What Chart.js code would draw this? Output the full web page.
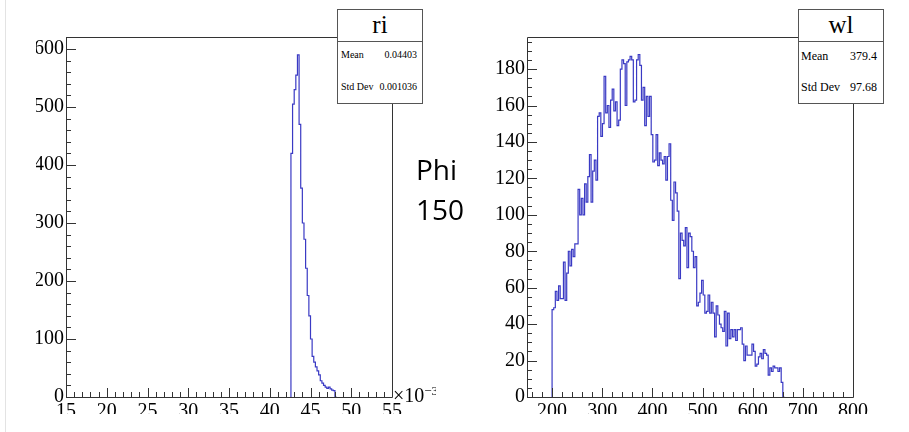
<!DOCTYPE html>
<html>
<head>
<meta charset="UTF-8">
<title>ri / wl</title>
<script src="https://cdn.jsdelivr.net/npm/chart.js@4.4.0/dist/chart.umd.min.js"></script>
<style>
  body { margin: 0; width: 909px; height: 432px; background: #fff; position: relative; overflow: hidden; font-family: "Liberation Serif", "Times New Roman", serif; }
  .edge { position: absolute; left: 5px; top: 0; width: 1px; height: 432px; background: #e3e3e3; }
  .pane { position: absolute; top: 0; height: 414px; overflow: hidden; }
  #paneL { left: 36px; width: 400px; }
  #paneR { left: 440px; width: 469px; }
  .pane canvas { position: absolute; top: 0; }
  #cL { left: -36px; }
  #cR { left: 10px; }
  .stats { position: absolute; top: 9px; width: 84px; height: 93px; border: 1px solid #555; background: #fff; color: #000; }
  .stats .title { height: 31px; border-bottom: 1px solid #555; text-align: center; font-size: 25px; line-height: 30px; }
  .stats .row { position: absolute; display: flex; justify-content: space-between; white-space: nowrap; }
  #statL { left: 337px; }
  #statR { left: 798px; }
  #statL .row { left: 3px; right: 5px; font-size: 10px; line-height: 12px; }
  #statR .row { left: 2px; right: 6px; font-size: 12px; line-height: 14px; }
  #expo { position: absolute; left: 357px; top: 381px; font-size: 20px; line-height: 20px; white-space: nowrap; }
  #expo sup { font-size: 13px; vertical-align: 7px; }
  #phi { position: absolute; left: 416px; top: 149px; font-family: "Open Sans", sans-serif; font-size: 28px; line-height: 40px; color: #000; }
</style>
</head>
<body>
<div class="edge"></div>

<div class="pane" id="paneL">
  <canvas id="cL" width="450" height="432"></canvas>
  <div id="expo">&times;10<sup>&minus;3</sup></div>
</div>
<div class="pane" id="paneR">
  <canvas id="cR" width="459" height="432"></canvas>
</div>

<div class="stats" id="statL">
  <div class="title">ri</div>
  <div class="row" style="top:39px"><span>Mean</span><span>0.04403</span></div>
  <div class="row" style="top:71px"><span>Std Dev</span><span>0.001036</span></div>
</div>
<div class="stats" id="statR">
  <div class="title">wl</div>
  <div class="row" style="top:39px"><span>Mean</span><span>379.4</span></div>
  <div class="row" style="top:70px"><span>Std Dev</span><span>97.68</span></div>
</div>

<div id="phi">Phi<br>150</div>

<script>
// ri histogram (x in units of 10^-3)
const riLow = 42.6;
const riBinWidth = 0.2;
const riCounts = [260, 420, 505, 530, 555, 590, 470, 360, 300, 272, 222, 175, 140, 100,
                  70, 60, 52, 45, 38, 28, 24, 20, 17, 15, 17, 14, 12, 11];
const riXTicks = { min: 15, max: 55, step: 5, minor: 1 };
const riYTicks = { min: 0, max: 620.7, step: 100, minor: 20 };

// wl histogram
const wlLow = 200;
const wlBinWidth = 3.24;
const wlCounts = [26, 48, 49, 58, 53, 61, 54, 54, 74, 53, 68, 80, 72, 81, 77, 84, 84,
                  114, 100, 109, 100, 117, 107, 121, 133, 107, 124, 130, 119, 154,
                  156, 143, 150, 176, 156, 160, 148, 163, 169, 157, 162, 149, 152,
                  180, 185, 183, 160, 184, 185, 187, 185, 162, 163, 185, 188, 182, 163, 170, 149, 165,
                  154, 165, 144, 129, 130, 144, 127, 134, 130, 128, 132, 119, 132, 139,
                  108, 97, 118, 112, 102, 65, 90, 86, 83, 93, 71, 90, 88, 80, 71, 77,
                  50, 52, 57, 64, 56, 46, 47, 56, 46, 52, 46, 33, 50, 45,
                  40, 38, 36, 47, 28, 46, 32, 37, 33, 37, 31, 37, 37,
                  38, 29, 20, 28, 23, 23, 23, 29, 25, 17, 18, 22, 24, 21, 26, 24, 23,
                  12, 16, 14, 17, 16, 16, 14, 16, 8];
const wlXTicks = { min: 150, max: 800, step: 100, minor: 20 };
const wlYTicks = { min: 0, max: 197.6, step: 20, minor: 5 };

const lineColor = '#3a3ac4';
const tickFont = { family: 'Liberation Serif', size: 20 };

function histPoints(lo, w, counts) {
  const pts = [{ x: lo, y: 0 }];
  counts.forEach((c, i) => pts.push({ x: lo + i * w, y: c }));
  pts.push({ x: lo + counts.length * w, y: 0 });
  return pts;
}

// ROOT style frame with ticks pointing inward
const rootTicks = {
  id: 'rootTicks',
  afterDatasetsDraw(chart, args, opts) {
    const { ctx, chartArea: a, scales: { x, y } } = chart;
    ctx.save();
    ctx.strokeStyle = '#333';
    ctx.lineWidth = 1;
    ctx.beginPath();
    ctx.rect(Math.round(a.left) + 0.5, Math.round(a.top) + 0.5, Math.round(a.right - a.left), Math.round(a.bottom - a.top));
    const isMajor = (v, s) => Math.abs(v / s - Math.round(v / s)) < 1e-6;
    const xs = opts.xt, ys = opts.yt;
    const x0 = Math.ceil(xs.min / xs.minor) * xs.minor;
    for (let v = x0; v <= xs.max + 1e-9; v += xs.minor) {
      const px = Math.round(x.getPixelForValue(v)) + 0.5;
      const len = isMajor(v, xs.step) ? 9 : 5;
      ctx.moveTo(px, a.bottom);
      ctx.lineTo(px, a.bottom - len);
    }
    for (let v = ys.min; v <= ys.max + 1e-9; v += ys.minor) {
      const py = Math.round(y.getPixelForValue(v)) + 0.5;
      const len = isMajor(v, ys.step) ? 10 : 5;
      ctx.moveTo(a.left, py);
      ctx.lineTo(a.left + len, py);
    }
    ctx.stroke();
    ctx.restore();
  }
};

function makeHist(id, lo, w, counts, xt, yt, yWidth, padRight) {
  return new Chart(document.getElementById(id), {
    type: 'line',
    data: {
      datasets: [{
        data: histPoints(lo, w, counts),
        stepped: 'after',
        borderColor: lineColor,
        borderWidth: 1.2,
        pointRadius: 0,
        fill: false
      }]
    },
    options: {
      responsive: false,
      animation: false,
      layout: { padding: { top: 37, right: padRight, left: 0, bottom: 0 } },
      plugins: { legend: { display: false }, tooltip: { enabled: false }, rootTicks: { xt: xt, yt: yt } },
      scales: {
        x: {
          type: 'linear', min: xt.min, max: xt.max,
          grid: { display: false, drawTicks: false }, border: { display: false },
          ticks: { stepSize: xt.step, includeBounds: false, autoSkip: false, maxRotation: 0, padding: 3, color: '#000', font: tickFont },
          afterFit: s => { s.height = 35; }
        },
        y: {
          type: 'linear', min: yt.min, max: yt.max,
          grid: { display: false, drawTicks: false }, border: { display: false },
          ticks: { stepSize: yt.step, includeBounds: false, autoSkip: false, padding: 2, color: '#000', font: tickFont },
          afterFit: s => { s.width = yWidth; }
        }
      }
    },
    plugins: [rootTicks]
  });
}

makeHist('cL', riLow, riBinWidth, riCounts, riXTicks, riYTicks, 66, 58);
makeHist('cR', wlLow, wlBinWidth, wlCounts, wlXTicks, wlYTicks, 77, 56);
</script>
</body>
</html>
